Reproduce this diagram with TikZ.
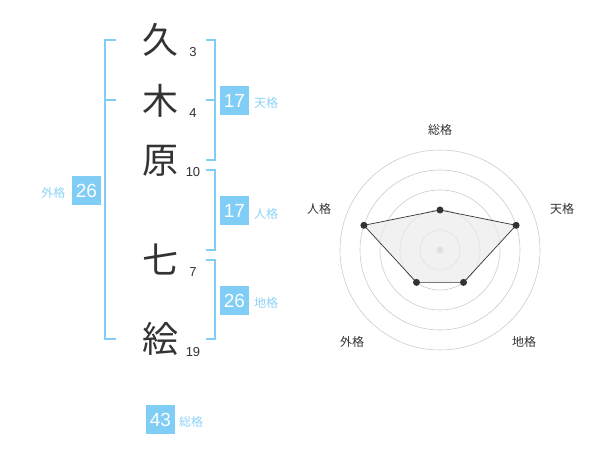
\documentclass[tikz,border=0pt]{standalone}
\usepackage{fontspec}
\setmainfont{Liberation Sans}
\newfontfamily\cjk{Noto Sans CJK JP}
\definecolor{bl}{HTML}{80CDF6}
\definecolor{bllab}{HTML}{8DD3F7}
\definecolor{ink}{HTML}{333333}
\definecolor{ring}{HTML}{CCCCCC}
\begin{document}
\begin{tikzpicture}[x=1pt,y=-1pt,
  kanji/.style={font=\cjk\fontsize{36}{36}\selectfont, text=ink, inner sep=0pt},
  strk/.style={font=\fontsize{13}{13}\selectfont, text=ink, inner sep=0pt},
  valbox/.style={fill=bl, text=white, minimum width=29pt, minimum height=29pt, inner sep=0pt, font=\fontsize{19}{19}\selectfont},
  vallab/.style={font=\cjk\fontsize{12}{12}\selectfont, text=bllab, inner sep=0pt},
  brk/.style={draw=bl, line width=2pt},
  radlab/.style={font=\cjk\fontsize{12}{12}\selectfont, text=ink, inner sep=0pt},
  pt/.style={circle, fill=ink, inner sep=0pt, minimum size=7pt}
]
\useasboundingbox (0,0) rectangle (600,470);
% characters
\node[kanji] (c1) at (160,40) {久};
\node[kanji] (c2) at (160,101) {木};
\node[kanji] (c3) at (160,161) {原};
\node[kanji] (c4) at (160,259) {七};
\node[kanji] (c5) at (160,339) {絵};
\node[strk] (s1) at (193,52) {3};
\node[strk] (s2) at (193,113) {4};
\node[strk] (s3) at (193,172.5) {10};
\node[strk] (s4) at (193,272) {7};
\node[strk] (s5) at (193,352.5) {19};
% brackets
\coordinate (lt) at (116,40); \coordinate (lm) at (116,100); \coordinate (lb) at (116,339);
\draw[brk] (lt) -- (105,40) -- (105,339) -- (lb);
\draw[brk] (lm) -- (105,100);
\draw[brk] (205.5,40) -- (214.5,40) -- (214.5,160) -- (205.5,160);
\draw[brk] (205.5,100) -- (214.5,100);
\draw[brk] (205.5,170) -- (214.5,170) -- (214.5,250) -- (205.5,250);
\draw[brk] (205.5,260) -- (214.5,260) -- (214.5,339) -- (205.5,339);
% values
\node[valbox] (v1) at (234.5,100.5) {17};
\node[vallab, anchor=west] (l1) at (254,103) {天格};
\node[valbox] (v2) at (234.5,211) {17};
\node[vallab, anchor=west] (l2) at (254,213.5) {人格};
\node[valbox] (v3) at (234.5,300.5) {26};
\node[vallab, anchor=west] (l3) at (254,303) {地格};
\node[valbox] (v4) at (86.5,190.5) {26};
\node[vallab, anchor=east] (l4) at (65.5,193) {外格};
\node[valbox] (v5) at (160.5,419.5) {43};
\node[vallab, anchor=west] (l5) at (179,422) {総格};
% radar
\coordinate (O) at (440,250);
\foreach \r in {20,40,60,80,100} \draw[ring, line width=0.6pt] (O) circle[radius=\r];
\fill[ring] (O) circle[radius=3.5];
\path (O) ++(0,-40) coordinate (pa)
      (O) ++(76.1,-24.7) coordinate (pb)
      (O) ++(23.5,32.4) coordinate (pc)
      (O) ++(-23.5,32.4) coordinate (pd)
      (O) ++(-76.1,-24.7) coordinate (pe);
\draw[fill=black!8, fill opacity=0.7, draw=ink, line width=0.7pt] (pa) -- (pb) -- (pc) -- (pd) -- (pe) -- cycle;
\foreach \p in {pa,pb,pc,pd,pe} \node[pt] at (\p) {};
\node[radlab] (r1) at (440,130) {総格};
\node[radlab] (r2) at (562,208.5) {天格};
\node[radlab] (r3) at (524,342) {地格};
\node[radlab] (r4) at (352,342) {外格};
\node[radlab] (r5) at (319,208.5) {人格};
\end{tikzpicture}
\end{document}
